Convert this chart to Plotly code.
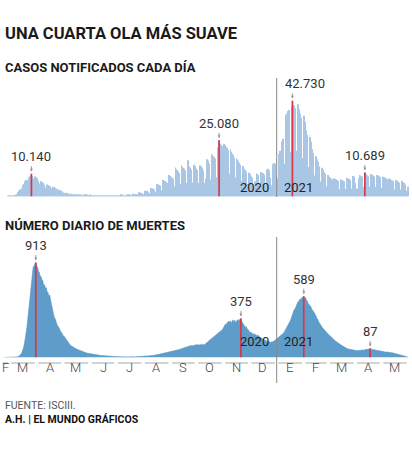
import pandas as pd
import plotly.graph_objects as go

# ---------------- DATA ----------------
start_date = "2020-02-24"  # first day of both daily series (Monday)

# Casos notificados cada día (miles), one row per week Mon..Sun
cases_k = [
    0.0, 0.0, 0.0, 0.0, 0.1, 0.1, 0.1,
    0.1, 0.2, 0.2, 0.3, 0.4, 0.4, 0.6,
    1.0, 1.4, 2.0, 2.6, 3.0, 3.2, 3.6,
    5.0, 5.6, 6.2, 6.8, 7.4, 7.2, 6.6,
    8.6, 9.0, 9.6, 10.14, 9.2, 8.0, 7.4,
    9.0, 8.6, 8.0, 7.6, 7.0, 5.8, 5.2,
    6.8, 6.4, 6.0, 5.2, 4.2, 4.0, 3.8,
    5.4, 5.0, 4.8, 4.6, 4.4, 3.6, 3.0,
    4.4, 4.2, 3.8, 3.6, 3.2, 2.4, 2.0,
    3.0, 2.8, 2.6, 2.2, 1.8, 1.4, 1.2,
    1.8, 1.6, 1.4, 1.3, 1.2, 0.9, 0.8,
    1.2, 1.1, 1.0, 0.9, 0.8, 0.6, 0.5,
    0.8, 0.7, 0.7, 0.6, 0.6, 0.4, 0.4,
    0.6, 0.5, 0.5, 0.5, 0.5, 0.3, 0.3,
    0.5, 0.4, 0.4, 0.4, 0.4, 0.3, 0.2,
    0.4, 0.4, 0.4, 0.3, 0.3, 0.2, 0.2,
    0.4, 0.4, 0.3, 0.3, 0.3, 0.2, 0.2,
    0.4, 0.4, 0.4, 0.3, 0.3, 0.2, 0.2,
    0.4, 0.4, 0.4, 0.4, 0.3, 0.2, 0.2,
    0.5, 0.5, 0.5, 0.4, 0.4, 0.3, 0.2,
    0.8, 0.8, 0.7, 0.7, 0.6, 0.4, 0.3,
    1.2, 1.1, 1.0, 1.0, 0.9, 0.6, 0.5,
    1.9, 1.8, 1.7, 1.6, 1.5, 0.9, 0.8,
    2.6, 2.5, 2.4, 2.3, 2.1, 1.3, 1.1,
    3.8, 3.6, 3.5, 3.4, 3.1, 1.9, 1.6,
    5.6, 5.4, 5.1, 5.0, 4.6, 2.8, 2.3,
    7.4, 7.1, 6.8, 6.5, 6.0, 3.6, 3.0,
    9.6, 9.2, 8.8, 8.4, 7.8, 4.6, 3.8,
    13.0, 12.2, 11.8, 11.2, 10.4, 5.6, 4.6,
    14.0, 13.2, 12.8, 12.4, 11.6, 6.0, 5.0,
    16.2, 14.0, 13.4, 12.8, 12.0, 6.2, 5.0,
    14.2, 13.6, 13.0, 12.4, 11.8, 6.0, 4.8,
    14.0, 13.4, 12.8, 12.6, 11.6, 6.0, 5.0,
    8.0, 16.6, 16.0, 15.4, 14.6, 7.6, 6.2,
    18.8, 18.0, 17.6, 17.0, 16.4, 8.6, 7.0,
    22.0, 25.08, 23.6, 23.0, 22.4, 11.0, 9.0,
    23.6, 23.0, 22.2, 21.6, 20.6, 10.2, 8.6,
    21.0, 20.0, 19.2, 18.4, 17.4, 8.6, 7.0,
    17.0, 16.6, 15.8, 15.0, 14.2, 7.0, 5.8,
    13.6, 13.0, 12.4, 11.8, 11.0, 5.6, 4.6,
    10.6, 10.2, 9.6, 9.0, 8.4, 4.4, 3.6,
    6.8, 5.2, 10.4, 10.0, 9.6, 5.0, 4.2,
    10.8, 10.6, 10.4, 10.2, 9.8, 5.2, 4.2,
    12.0, 12.4, 11.6, 8.4, 4.6, 4.8, 5.0,
    14.4, 15.0, 14.6, 9.2, 5.0, 8.0, 7.4,
    19.0, 20.4, 14.0, 24.6, 25.8, 14.6, 12.0,
    33.0, 36.4, 37.0, 38.2, 38.6, 20.0, 16.8,
    40.2, 42.73, 41.0, 40.6, 39.4, 20.4, 17.0,
    41.2, 40.6, 38.8, 37.0, 35.2, 17.2, 14.2,
    36.0, 33.4, 31.6, 29.6, 27.4, 13.2, 10.8,
    26.6, 24.4, 22.8, 21.2, 19.4, 9.4, 7.6,
    18.0, 16.6, 15.4, 14.6, 13.4, 6.6, 5.2,
    12.8, 11.8, 10.8, 10.2, 9.6, 4.6, 3.8,
    9.6, 8.8, 8.4, 8.0, 7.6, 3.6, 3.0,
    8.2, 7.8, 7.6, 7.2, 7.0, 3.4, 2.8,
    7.8, 7.4, 7.2, 7.0, 6.8, 3.4, 2.8,
    8.4, 8.2, 8.0, 7.8, 7.4, 3.6, 3.0,
    9.2, 9.0, 8.8, 6.0, 3.4, 3.6, 3.4,
    8.0, 9.6, 9.4, 9.2, 8.8, 4.2, 3.4,
    10.689, 10.0, 9.6, 9.4, 9.0, 4.4, 3.6,
    10.0, 9.6, 9.4, 9.2, 8.8, 4.2, 3.4,
    9.6, 9.4, 9.0, 8.6, 8.0, 3.8, 3.0,
    8.8, 8.6, 8.4, 8.0, 7.6, 3.6, 3.0,
    8.0, 7.8, 7.4, 7.2, 6.8, 3.2, 2.6,
    7.4, 7.2, 7.0, 6.6, 6.2, 3.0, 2.4,
    7.0, 6.8, 6.4, 6.0, 5.4, 2.6, 2.0,
    4.4,
]

# Número diario de muertes, one row per week Mon..Sun
deaths = [
    0, 0, 0, 0, 0, 0, 0,
    0, 0, 1, 1, 2, 2, 3,
    4, 6, 9, 14, 20, 30, 45,
    65, 95, 130, 180, 235, 300, 380,
    465, 575, 650, 760, 800, 870, 880,
    900, 913, 880, 870, 830, 820, 780,
    780, 745, 740, 690, 700, 665, 670,
    630, 625, 590, 600, 550, 505, 445,
    425, 390, 375, 340, 325, 300, 295,
    270, 265, 240, 235, 210, 208, 190,
    185, 172, 158, 147, 133, 126, 114,
    111, 103, 99, 93, 89, 83, 80,
    76, 72, 70, 66, 62, 58, 55,
    52, 50, 47, 44, 42, 40, 38,
    37, 35, 33, 31, 30, 28, 27,
    26, 25, 23, 22, 21, 20, 19,
    18, 17, 16, 15, 14, 13, 13,
    12, 12, 11, 10, 10, 9, 9,
    9, 8, 9, 8, 7, 8, 7,
    7, 6, 7, 6, 6, 5, 6,
    6, 5, 6, 7, 5, 6, 6,
    6, 7, 6, 7, 8, 7, 8,
    8, 9, 10, 9, 11, 10, 12,
    12, 14, 13, 15, 16, 15, 17,
    18, 20, 19, 22, 23, 22, 25,
    27, 28, 30, 31, 33, 32, 35,
    38, 40, 42, 44, 46, 45, 48,
    52, 55, 57, 60, 62, 60, 64,
    68, 70, 73, 75, 78, 76, 80,
    85, 88, 92, 95, 98, 96, 100,
    104, 108, 110, 112, 115, 110, 112,
    117, 120, 118, 122, 124, 118, 120,
    122, 126, 120, 128, 125, 118, 130,
    140, 145, 150, 158, 165, 170, 180,
    190, 198, 205, 212, 210, 218, 225,
    235, 245, 250, 258, 265, 270, 285,
    300, 318, 312, 335, 332, 350, 338,
    352, 330, 348, 362, 336, 358, 330,
    342, 362, 346, 368, 350, 375, 345,
    335, 315, 305, 285, 298, 276, 272,
    262, 240, 238, 242, 222, 232, 216,
    218, 224, 206, 208, 214, 198, 196,
    190, 185, 175, 170, 165, 168, 160,
    158, 150, 155, 148, 145, 150, 148,
    152, 158, 165, 170, 175, 180, 190,
    195, 200, 210, 218, 225, 235, 250,
    265, 280, 295, 310, 330, 345, 360,
    385, 415, 425, 460, 465, 495, 505,
    530, 535, 555, 565, 550, 580, 575,
    589, 565, 578, 550, 545, 515, 512,
    495, 492, 465, 458, 440, 432, 410,
    402, 375, 368, 340, 334, 315, 308,
    290, 280, 268, 258, 250, 245, 235,
    225, 215, 210, 200, 192, 185, 178,
    170, 160, 155, 148, 140, 132, 125,
    120, 115, 112, 108, 102, 98, 92,
    88, 85, 82, 80, 78, 75, 72,
    70, 72, 68, 70, 66, 65, 68,
    66, 70, 68, 72, 70, 74, 70,
    75, 78, 80, 76, 82, 84, 87,
    80, 78, 75, 74, 72, 70, 68,
    66, 64, 62, 63, 60, 58, 57,
    58, 55, 54, 52, 50, 52, 49,
    48, 47, 45, 46, 44, 42, 40,
    38, 37, 35, 32, 30, 28, 25,
    23, 20, 18, 15, 12, 10, 8,
    6,
]

# Highlighted peaks
case_peak_dates = ["2020-03-26", "2020-10-27", "2021-01-19", "2021-04-12"]
case_peak_labels = ["10.140", "25.080", "42.730", "10.689"]
death_peak_dates = ["2020-03-31", "2020-11-21", "2021-02-01", "2021-04-18"]
death_peak_labels = ["913", "375", "589", "87"]

# Month axis
month_labels = ["F", "M", "A", "M", "J", "J", "A", "S", "O", "N", "D",
                "E", "F", "M", "A", "M"]
month_label_dates = ["2020-02-25", "2020-03-16", "2020-04-16", "2020-05-16",
                     "2020-06-16", "2020-07-16", "2020-08-16", "2020-09-16",
                     "2020-10-16", "2020-11-16", "2020-12-16", "2021-01-16",
                     "2021-02-14", "2021-03-16", "2021-04-16", "2021-05-16"]
month_starts = ["2020-02-01", "2020-03-01", "2020-04-01", "2020-05-01",
                "2020-06-01", "2020-07-01", "2020-08-01", "2020-09-01",
                "2020-10-01", "2020-11-01", "2020-12-01", "2021-01-01",
                "2021-02-01", "2021-03-01", "2021-04-01", "2021-05-01",
                "2021-06-01"]
year_split = "2021-01-01"
year_labels = ["2020", "2021"]

# ---------------- FIGURE ----------------
W, H = 412, 457
dates = pd.date_range(start_date, periods=len(cases_k), freq="D")
cases = [v * 1000 for v in cases_k]
x_range = ["2020-02-19", "2021-06-05"]

def py(px):  # pixel-from-top -> paper fraction
    return (H - px) / H

CASE_BLUE = "#a9c7e4"
DEATH_BLUE = "#5e9dca"
RED = "#dc3545"
FONT = "Roboto"

fig = go.Figure()
fig.add_trace(go.Bar(x=dates, y=cases, marker=dict(color=CASE_BLUE, line_width=0),
                     xaxis="x", yaxis="y", hoverinfo="skip"))
fig.add_trace(go.Scatter(x=dates, y=deaths, mode="lines", fill="tozeroy",
                         line=dict(color="#5393c4", width=0.6), fillcolor=DEATH_BLUE,
                         xaxis="x2", yaxis="y2", hoverinfo="skip"))

shapes = []
annotations = []
dser_c = pd.Series(cases, index=dates)
dser_d = pd.Series(deaths, index=dates)

def add_peaks(pdates, plabels, ser, xr, yr, xshifts):
    for d, lab, xs in zip(pdates, plabels, xshifts):
        v = float(ser[pd.Timestamp(d)])
        shapes.append(dict(type="line", xref=xr, yref=yr, x0=d, x1=d, y0=0, y1=v,
                           line=dict(color=RED, width=1.7), layer="above"))
        annotations.append(dict(x=d, y=v, xref=xr, yref=yr, text=lab, showarrow=False,
                                yshift=17, xshift=xs,
                                font=dict(family=FONT, size=13, color="#333")))
        annotations.append(dict(x=d, y=v, xref=xr, yref=yr, text="", showarrow=True,
                                ax=0, ay=-9, arrowhead=2, arrowsize=0.6, arrowwidth=1,
                                arrowcolor="#999", standoff=2))

add_peaks(case_peak_dates, case_peak_labels, dser_c, "x", "y", [0, 0, 13, 0])
add_peaks(death_peak_dates, death_peak_labels, dser_d, "x2", "y2", [0, 0, 0, 0])

# year divider
shapes.append(dict(type="line", xref="x", yref="paper", x0=year_split, x1=year_split,
                   y0=py(197), y1=py(78), line=dict(color="#888", width=1)))
shapes.append(dict(type="line", xref="x", yref="paper", x0=year_split, x1=year_split,
                   y0=py(383), y1=py(237), line=dict(color="#888", width=1)))

for yy in (py(187), py(351)):
    annotations.append(dict(x=year_split, y=yy, xref="x", yref="paper", text=year_labels[0],
                            xanchor="right", xshift=-6, showarrow=False,
                            font=dict(family=FONT, size=13, color="#222")))
    annotations.append(dict(x=year_split, y=yy, xref="x", yref="paper", text=year_labels[1],
                            xanchor="left", xshift=5, showarrow=False,
                            font=dict(family=FONT, size=13, color="#222")))

# month segments
seg_y = py(363)
for i in range(len(month_starts) - 1):
    s = pd.Timestamp(month_starts[i]) + pd.Timedelta(days=2)
    e = pd.Timestamp(month_starts[i + 1]) - pd.Timedelta(days=2)
    if i == 0:
        s = pd.Timestamp(start_date) - pd.Timedelta(days=2)
    shapes.append(dict(type="line", xref="x", yref="paper", x0=s, x1=e, y0=seg_y, y1=seg_y,
                       line=dict(color="#c4c4c4", width=1.5)))

for lab, d in zip(month_labels, month_label_dates):
    annotations.append(dict(x=d, y=py(377), xref="x", yref="paper", text=lab,
                            showarrow=False,
                            font=dict(family=FONT, size=13, color="#444", weight=300)))

# titles
def txt(t, y, size, weight=400, color="#111"):
    annotations.append(dict(x=3 / W, y=py(y), xref="paper", yref="paper", text=t,
                            xanchor="left", yanchor="middle", showarrow=False,
                            font=dict(family=FONT, size=size, color=color, weight=weight)))

txt("UNA CUARTA OLA MÁS SUAVE", 33, 16.5, 700, "#1a1a1a")
txt("CASOS NOTIFICADOS CADA DÍA", 68, 13, 700, "#1a1a1a")
txt("NÚMERO DIARIO DE MUERTES", 225, 13, 700, "#1a1a1a")
txt("FUENTE: ISCIII.", 405, 10.5, 400, "#555")
txt("A.H. | EL MUNDO GRÁFICOS", 419, 10.5, 700, "#111")

fig.update_layout(
    width=W, height=H, margin=dict(l=0, r=0, t=0, b=0),
    paper_bgcolor="white", plot_bgcolor="rgba(0,0,0,0)",
    showlegend=False, bargap=0.15,
    xaxis=dict(domain=[0, 1], range=x_range, visible=False, anchor="y"),
    xaxis2=dict(domain=[0, 1], range=x_range, visible=False, anchor="y2", matches="x"),
    yaxis=dict(domain=[py(196.5), py(84.5)], range=[0, 50000], visible=False),
    yaxis2=dict(domain=[py(357.5), py(253.5)], range=[0, 1000], visible=False),
    shapes=shapes, annotations=annotations,
)

fig.write_html("out.html")
